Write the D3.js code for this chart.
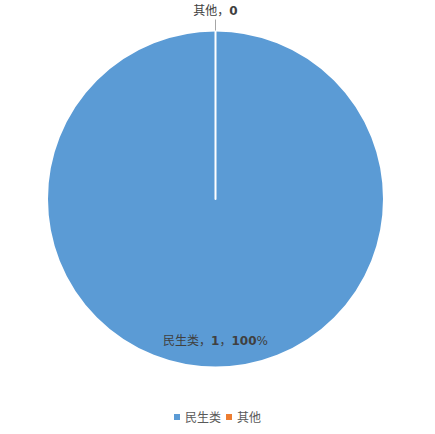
<!DOCTYPE html>
<html>
<head>
<meta charset="utf-8">
<script src="https://cdn.jsdelivr.net/npm/d3@7"></script>
<style>
  body { margin: 0; background: #fff; }
  svg { display: block; }
</style>
</head>
<body>
<div id="chart"></div>
<script>
// data
const categories = ["民生类", "其他"];
const values = [1, 0];
const colors = ["#5B9BD5", "#ED7D31"];

const W = 435, H = 434;
const cx = 215.5, cy = 199, r = 168.5;
const font = "'DejaVu Sans', 'Noto Sans CJK SC', sans-serif";

const svg = d3.select("#chart").append("svg")
  .attr("width", W).attr("height", H);

const total = d3.sum(values);
const pie = d3.pie().sort(null).value(d => d.value);
const arcs = pie(categories.map((c, i) => ({ name: c, value: values[i], color: colors[i] })));
const arc = d3.arc().innerRadius(0).outerRadius(r);

const g = svg.append("g").attr("transform", `translate(${cx},${cy})`);

g.selectAll("path.slice")
  .data(arcs)
  .join("path")
  .attr("class", "slice")
  .attr("d", arc)
  .attr("fill", d => d.data.color)
  .attr("stroke", "#fff")
  .attr("stroke-width", 2)
  .attr("stroke-linejoin", "round");

// labels
arcs.forEach(d => {
  const pct = d3.format(".0%")(d.data.value / total);
  if (d.data.value > 0) {
    // inside label, near the bottom of the slice
    const t = g.append("text")
      .attr("x", 0)
      .attr("y", r * 0.865)
      .attr("text-anchor", "middle")
      .attr("font-family", font)
      .attr("font-size", 12)
      .attr("fill", "#404040");
    t.append("tspan").text(d.data.name + "，");
    t.append("tspan").attr("font-weight", "bold").text(d.data.value);
    t.append("tspan").text("，");
    t.append("tspan").attr("font-weight", "bold").text(pct.replace("%", ""));
    t.append("tspan").text("%");
  } else {
    // zero slice: label outside with a leader line
    const a = d.startAngle;
    const p0 = [Math.sin(a) * r, -Math.cos(a) * r];
    const p1 = [Math.sin(a) * (r + 11), -Math.cos(a) * (r + 11)];
    g.append("line")
      .attr("x1", p0[0]).attr("y1", p0[1])
      .attr("x2", p1[0]).attr("y2", p1[1])
      .attr("stroke", "#a6a6a6").attr("stroke-width", 1);
    const t = g.append("text")
      .attr("x", p1[0])
      .attr("y", p1[1] - 5)
      .attr("text-anchor", "middle")
      .attr("font-family", font)
      .attr("font-size", 12)
      .attr("fill", "#404040");
    t.append("tspan").text(d.data.name + "，");
    t.append("tspan").attr("font-weight", "bold").text(d.data.value);
  }
});

// legend
const legend = svg.append("g").attr("transform", "translate(0,417)");
const items = [];
let x = 0;
categories.forEach((c, i) => {
  items.push({ name: c, color: colors[i], x });
  x += 11 + c.length * 12 + 5;
});
const legendW = x - 5;
const lg = legend.append("g").attr("transform", `translate(${W / 2 - legendW / 2},0)`);
const it = lg.selectAll("g").data(items).join("g")
  .attr("transform", d => `translate(${d.x},0)`);
it.append("rect").attr("x", 0).attr("y", -3).attr("width", 6).attr("height", 6)
  .attr("fill", d => d.color);
it.append("text").attr("x", 11).attr("y", 4.5)
  .attr("font-family", font).attr("font-size", 12).attr("fill", "#595959")
  .text(d => d.name);
</script>
</body>
</html>
